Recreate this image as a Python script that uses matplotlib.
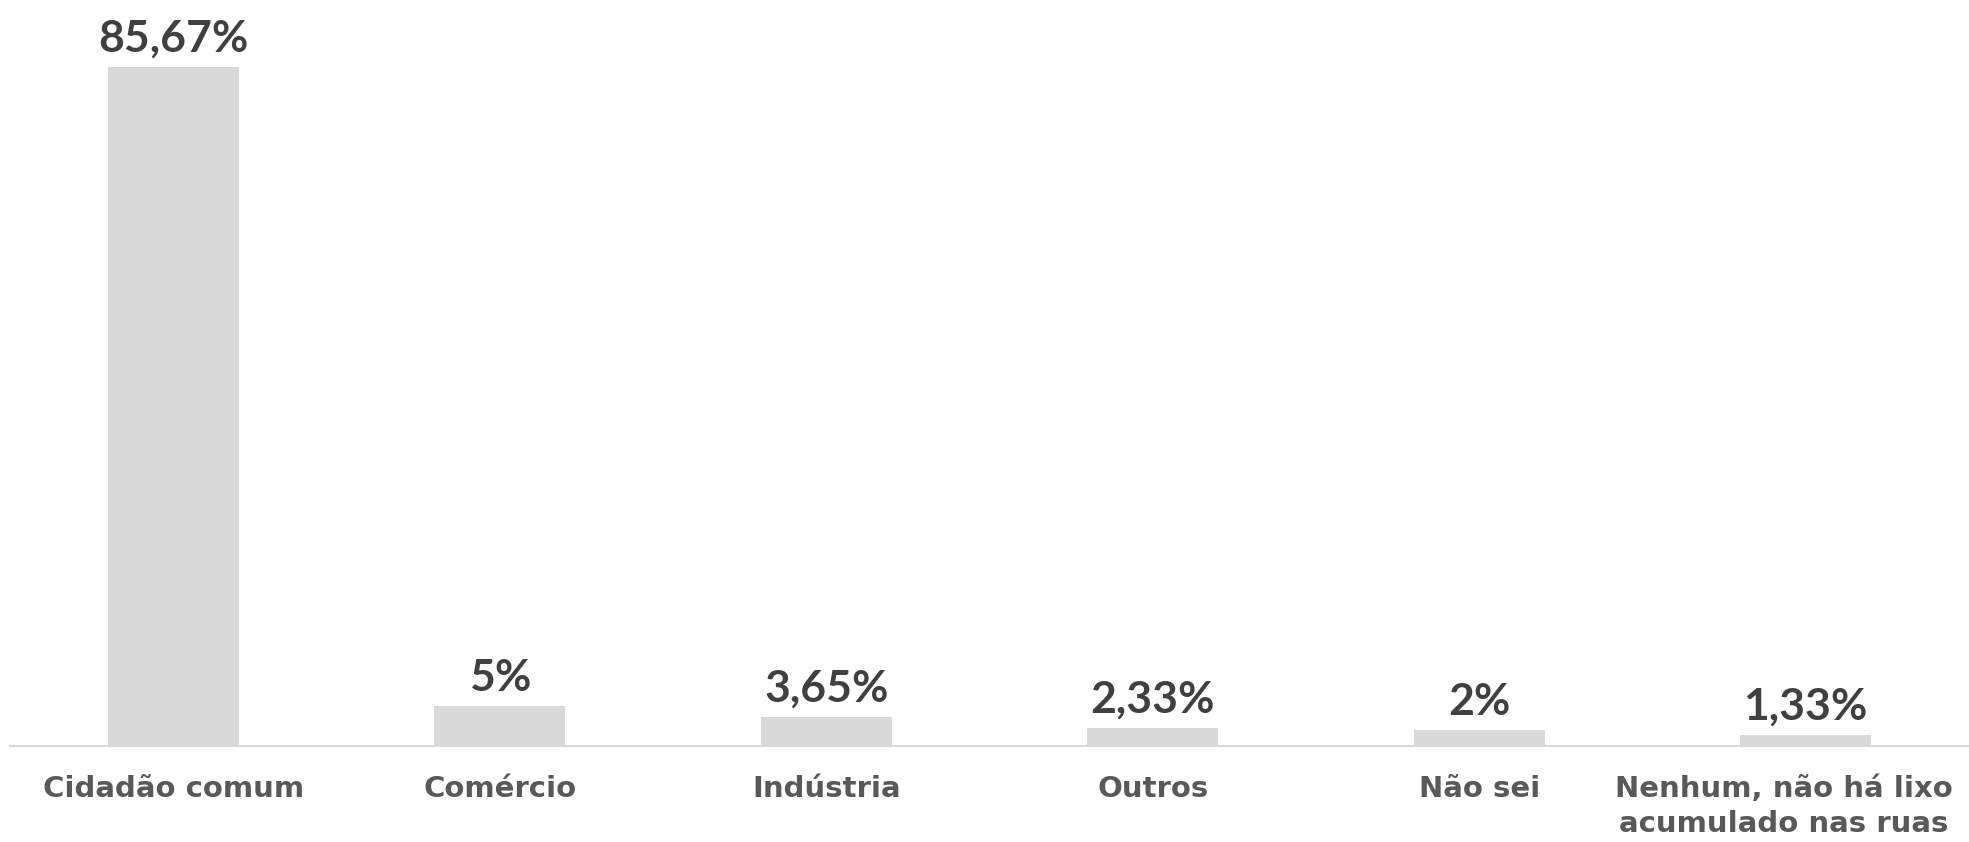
import matplotlib
matplotlib.use("Agg")
import matplotlib.pyplot as plt
import matplotlib.transforms as mtransforms
import numpy as np

categories = ["Cidadão comum", "Comércio", "Indústria", "Outros", "Não sei",
              "Nenhum, não há lixo\nacumulado nas ruas"]
values = [85.67, 5.0, 3.65, 2.33, 2.0, 1.33]
value_labels = ["85,67%", "5%", "3,65%", "2,33%", "2%", "1,33%"]

plt.rcParams["font.family"] = ["Lato", "DejaVu Sans"]

fig = plt.figure(figsize=(19.69, 8.42), dpi=100)
ax = fig.add_axes([10 / 1969, 1 - 746 / 842, 1 - 10 / 1969, 746 / 842])

x = np.arange(len(categories))
ax.bar(x, values, width=0.4, color="#D9D9D9", zorder=2)

for xi, v, lab in zip(x, values, value_labels):
    ax.annotate(lab, (xi, v), xytext=(0, 6), textcoords="offset points",
                ha="center", va="bottom", fontsize=32, fontweight="bold",
                color="#404040")

ax.set_xlim(-0.5, len(categories) - 0.5)
ax.set_ylim(0, 94.13)
ax.set_xticks(x)
ax.set_xticklabels(categories, fontsize=21, fontweight="bold", color="#595959",
                   family="DejaVu Sans", linespacing=1.3)
ax.tick_params(axis="x", length=0, pad=21)
ax.set_yticks([])

# last label sits against the right edge, nudge it left a bit
last = ax.get_xticklabels()[-1]
last.set_transform(last.get_transform() +
                   mtransforms.ScaledTranslation(-0.22, 0, fig.dpi_scale_trans))

for side in ["top", "right", "left"]:
    ax.spines[side].set_visible(False)
ax.spines["bottom"].set_color("#D9D9D9")
ax.spines["bottom"].set_linewidth(1.5)

fig.savefig("out.png", dpi=100)
plt.close(fig)
